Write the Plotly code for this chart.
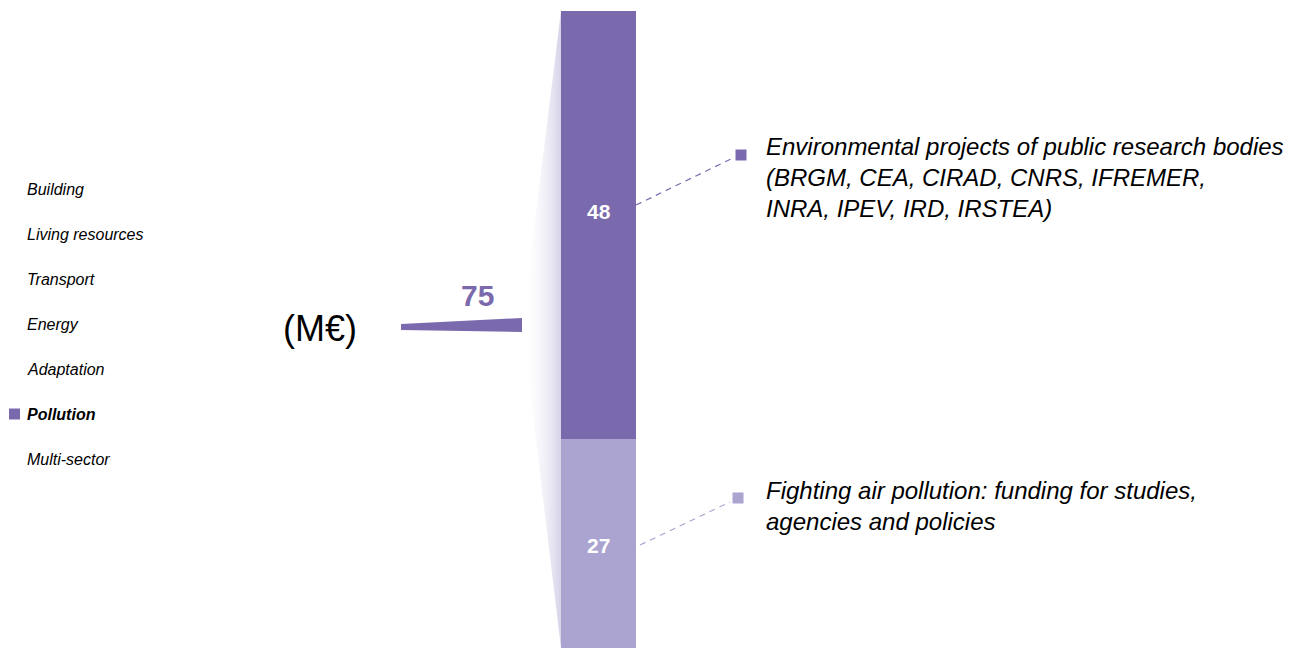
import plotly.graph_objects as go

# ---- data ----
sectors = ["Building", "Living resources", "Transport", "Energy", "Adaptation", "Pollution", "Multi-sector"]
selected_sector = "Pollution"
segment_names = ["Fighting air pollution: funding for studies,<br>agencies and policies",
                 "Environmental projects of public research bodies<br>(BRGM, CEA, CIRAD, CNRS, IFREMER,<br>INRA, IPEV, IRD, IRSTEA)"]
segment_values = [27, 48]
unit_label = "(M€)"
total = sum(segment_values)

# ---- style ----
W, H = 1295, 648
dark = "rgb(122,106,173)"
light = "rgb(171,164,208)"
seg_colors = [light, dark]
FONT = "Liberation Sans, Arial, sans-serif"

fig = go.Figure()

# bar axis scaling (value units); pixel px -> value mapping
k = 428 / 48.0
y_top = total + 11 / k
y_bot = total - (H - 11) / k

bar_x = 598.5
cum = 0
for v, c in zip(segment_values, seg_colors):
    fig.add_trace(go.Bar(x=[bar_x], y=[v], base=[cum], width=75, marker=dict(color=c, line=dict(width=0)),
                         hoverinfo="skip", showlegend=False, xaxis="x", yaxis="y"))
    fig.add_annotation(x=bar_x, y=cum + v / 2, xref="x", yref="y", text=f"<b>{v}</b>", showarrow=False,
                       yshift=14, font=dict(family=FONT, size=21, color="white"))
    cum += v

# gradient wedge (pixel overlay axes)
fig.add_trace(go.Scatter(x=[522, 561, 561, 522], y=[325, 11, 648, 325], mode="lines", fill="toself",
                         line=dict(width=0), hoverinfo="skip", showlegend=False,
                         fillgradient=dict(type="horizontal",
                                           colorscale=[[0, "rgba(255,255,255,0)"], [1, "rgba(212,208,232,0.95)"]]),
                         xaxis="x", yaxis="y2"))
# thin stripe from the total
fig.add_trace(go.Scatter(x=[401, 522, 522, 401, 401], y=[324, 318, 332, 330, 324], mode="lines", fill="toself",
                         fillcolor=dark, line=dict(width=0), hoverinfo="skip", showlegend=False,
                         xaxis="x", yaxis="y2"))
fig.add_annotation(x=477, y=295, xref="x", yref="y2", text=f"<b>{total}</b>", showarrow=False,
                   font=dict(family=FONT, size=30, color=dark))
fig.add_annotation(x=320, y=328, xref="x", yref="y2", text=unit_label, showarrow=False,
                   font=dict(family=FONT, size=36, color="black"))

# connectors + labels on the right
conn = [  # (from, to, marker, text pos)
    ((640, 545), (730, 502), (738, 498), (764, 506)),
    ((636, 205), (733, 158), (741, 155), (764, 177)),
]
for (p0, p1, m, t), name, c in zip(conn, segment_names, seg_colors):
    fig.add_trace(go.Scatter(x=[p0[0], p1[0]], y=[p0[1], p1[1]], mode="lines",
                             line=dict(color=c, width=1.2, dash="6px,5px"), hoverinfo="skip",
                             showlegend=False, xaxis="x", yaxis="y2"))
    fig.add_trace(go.Scatter(x=[m[0]], y=[m[1]], mode="markers",
                             marker=dict(symbol="square", size=11, color=c), hoverinfo="skip",
                             showlegend=False, xaxis="x", yaxis="y2"))
    fig.add_annotation(x=t[0], y=t[1], xref="x", yref="y2", text=f"<i>{name}</i>", showarrow=False,
                       xanchor="left", yanchor="middle", align="left",
                       font=dict(family=FONT, size=24, color="black"))

# left sector list
for i, s in enumerate(sectors):
    py = 189 + i * 45
    txt = f"<b><i>{s}</i></b>" if s == selected_sector else f"<i>{s}</i>"
    fig.add_annotation(x=25, y=py, xref="x", yref="y2", text=txt, showarrow=False, xanchor="left",
                       yanchor="middle", font=dict(family=FONT, size=16, color="black"))
    if s == selected_sector:
        fig.add_trace(go.Scatter(x=[14.5], y=[py], mode="markers",
                                 marker=dict(symbol="square", size=11, color=dark), hoverinfo="skip",
                                 showlegend=False, xaxis="x", yaxis="y2"))

fig.update_layout(
    width=W, height=H, margin=dict(l=0, r=0, t=0, b=0), barmode="overlay",
    paper_bgcolor="white", plot_bgcolor="white", showlegend=False,
    xaxis=dict(range=[0, W], visible=False, fixedrange=True),
    yaxis=dict(range=[y_bot, y_top], visible=False, fixedrange=True),
    yaxis2=dict(range=[H, 0], visible=False, overlaying="y", fixedrange=True),
)

fig.write_html("out.html", config={"displayModeBar": False})
